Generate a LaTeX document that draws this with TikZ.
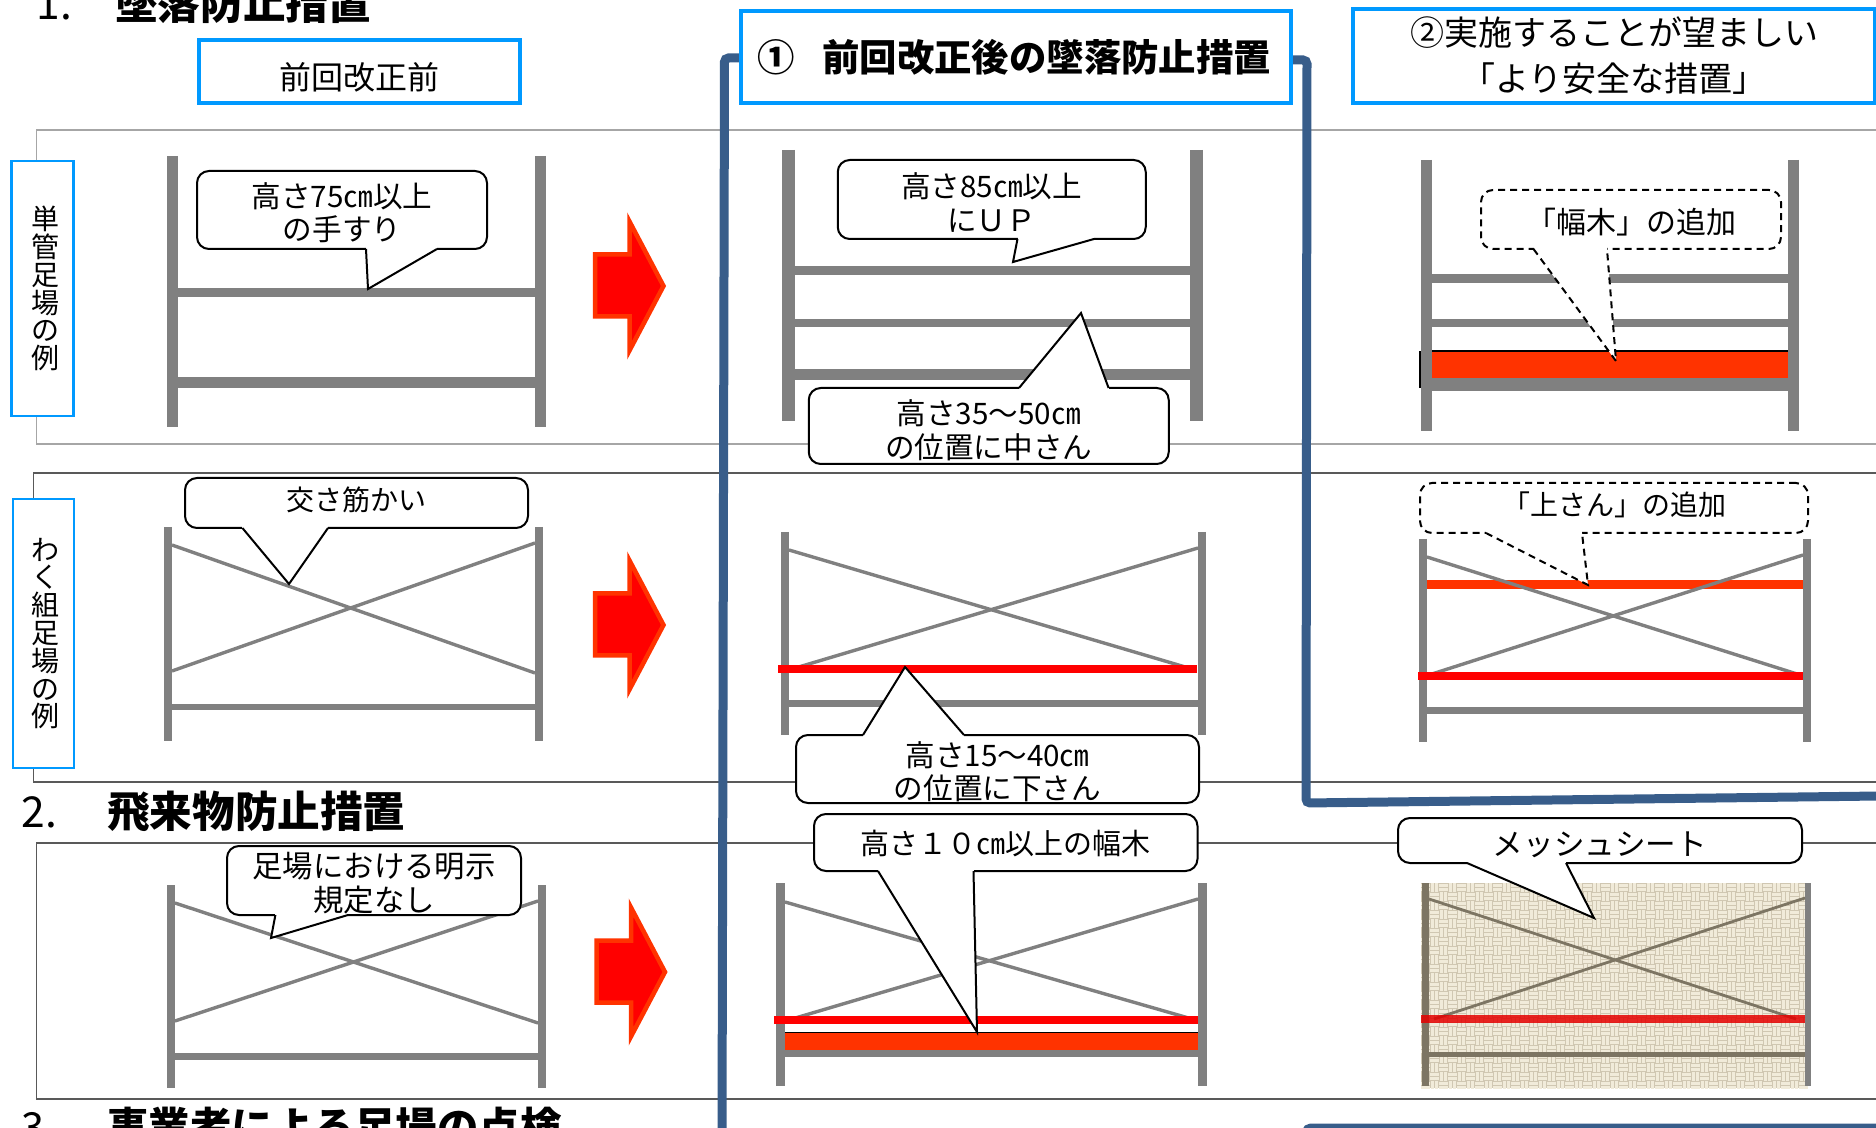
\documentclass[tikz,border=0pt]{standalone}
\usepackage{fontspec}
\setmainfont{Noto Sans CJK JP}
\definecolor{boxblue}{HTML}{0099FF}
\definecolor{framegray}{HTML}{A6A6A6}
\definecolor{framedark}{HTML}{595959}
\definecolor{pipegray}{HTML}{808080}
\definecolor{navyframe}{HTML}{385D8A}
\definecolor{boardred}{HTML}{FF3300}
\definecolor{sheetdark}{HTML}{7D7563}
\definecolor{sheetbase}{HTML}{D0C7B2}
\definecolor{sheetlight}{HTML}{F1EBDA}
\newcommand{\balloontail}[5][]{%
  \fill[white] (#3,0 |- #2) -- (#5) -- (#4,0 |- #2) -- cycle;
  \draw[white, line width=1.5pt] (#3,0 |- #2) -- (#4,0 |- #2);
  \draw[line width=1pt, #1] (#3,0 |- #2) -- (#5) -- (#4,0 |- #2);
}
\newcommand{\posts}[5]{%
  \draw[pipe, line width=#5pt] (#1,#3) -- (#1,#4);
  \draw[pipe, line width=#5pt] (#2,#3) -- (#2,#4);
}
\newcommand{\nudge}[2]{\raisebox{#1}[\height][\depth]{#2}}
\begin{document}
\begin{tikzpicture}[x=0.5pt, y=-0.5pt]
        \tikzstyle{pipe}=[draw=pipegray]
        \tikzstyle{brace}=[draw=pipegray, line width=1.7pt]
        \tikzstyle{headbox}=[draw=boxblue, line width=2.25pt, fill=white, inner sep=0pt, outer sep=0pt, align=center]
        \tikzstyle{sidebox}=[draw=boxblue, line width=1.25pt, fill=white, inner sep=0pt, outer sep=0pt, align=center, font=\fontsize{14}{13.9}\selectfont]
        \tikzstyle{balloon}=[draw, line width=1pt, rounded corners=6pt, fill=white, inner sep=0pt, outer sep=0pt, align=center, font=\fontsize{14.8}{16.7}\selectfont]
        \tikzstyle{title}=[anchor=west, inner sep=0pt, font=\fontsize{21.3}{21}\selectfont\bfseries]
        \tikzstyle{navy}=[draw=navyframe, line width=4.5pt, rounded corners=2pt]
        \tikzstyle{dashes}=[dash pattern=on 3.5pt off 2.5pt]
        \tikzstyle{bigarrow}=[draw=boardred, fill=red, line width=2.25pt, miter limit=10]

        \useasboundingbox (0,0) rectangle (1876,1128);
        \clip (0,0) rectangle (1876,1128);

        % section frames
        \draw[framegray, line width=.8pt] (1876,130) -- (36.6,130) -- (36.6,444) -- (1876,444);
        \draw[framedark, line width=.6pt] (1876,473) -- (33.5,473) -- (33.5,782) -- (1876,782);
        \draw[framedark, line width=.6pt] (1876,843) -- (36.6,843) -- (36.6,1099) -- (1876,1099);

        % row 1
        \posts{172.5}{540.5}{156}{427}{5.5}
        \draw[pipe, line width=4.5pt] (178,292.5) -- (535,292.5);
        \draw[pipe, line width=5.25pt] (178,382.5) -- (535,382.5);

        \posts{788.5}{1196.5}{150}{421}{6.5}
        \draw[pipe, line width=4.5pt] (795,270.5) -- (1190,270.5);
        \draw[pipe, line width=4pt] (795,323) -- (1190,323);
        \draw[pipe, line width=5.25pt] (795,374.5) -- (1190,374.5);

        \fill[boardred] (1432,351) rectangle (1788,378);
        \draw[line width=.8pt] (1432,351) -- (1788,351);
        \draw[line width=.8pt] (1420,351) -- (1420,388);
        \posts{1426.5}{1793.5}{160}{431}{5.5}
        \draw[pipe, line width=4.5pt] (1432,278.5) -- (1788,278.5);
        \draw[pipe, line width=4pt] (1432,323) -- (1788,323);
        \draw[pipe, line width=6.5pt] (1432,385) -- (1788,385);

        % row 2
        \posts{168}{539}{527}{741}{4}
        \draw[pipe, line width=3pt] (172,707) -- (535,707);
        \draw[brace] (172,545) -- (535,673);
        \draw[brace] (172,671) -- (535,543);

        \posts{785}{1202}{532}{735}{4}
        \draw[pipe, line width=3.5pt] (789,703.5) -- (1198,703.5);
        \draw[brace] (789,550) -- (1192,669);
        \draw[brace] (1198,548) -- (792,669);
        \draw[red, line width=4pt] (778,669) -- (1197,669);

        \posts{1423}{1807}{539}{742}{4}
        \draw[boardred, line width=4.5pt] (1427,584.5) -- (1803,584.5);
        \draw[pipe, line width=3.5pt] (1427,710.5) -- (1803,710.5);
        \draw[brace] (1427,557) -- (1797,674);
        \draw[brace] (1803,555) -- (1432,674);
        \draw[red, line width=4pt] (1418,676) -- (1803,676);

        % row 3
        \posts{171}{542}{885}{1088}{4}
        \draw[pipe, line width=3.5pt] (175,1056) -- (538,1056);
        \draw[brace] (175,903) -- (538,1023);
        \draw[brace] (175,1021) -- (538,901);

        \posts{780.5}{1202.5}{883}{1086}{4.5}
        \draw[brace] (785,902) -- (1192,1019);
        \draw[brace] (1198,899) -- (792,1019);
        \draw[red, line width=4pt] (774,1019.5) -- (1198,1019.5);
        \fill[boardred] (785,1033) rectangle (1198,1050);
        \draw[line width=.8pt] (785,1032.5) -- (1198,1032.5);
        \draw[pipe, line width=3.5pt] (785,1053.5) -- (1198,1053.5);

        % mesh sheet
        \fill[sheetbase] (1421,883) rectangle (1808,1088);
        \begin{scope}
            \clip (1421,883) rectangle (1808,1088);
            \foreach \i in {0,...,43}
                \foreach \j in {0,...,22} {
                    \pgfmathtruncatemacro{\k}{mod(\i+\j,2)}
                    \pgfmathsetmacro{\cx}{1421+9*\i}
                    \pgfmathsetmacro{\cy}{883+9*\j}
                    \ifnum\k=0
                        \draw[sheetlight, line width=1.05pt] (\cx,\cy+2.5) -- ++(9,0) (\cx,\cy+6.5) -- ++(9,0);
                    \else
                        \draw[sheetlight, line width=1.05pt] (\cx+2.5,\cy) -- ++(0,9) (\cx+6.5,\cy) -- ++(0,9);
                    \fi
                }
        \end{scope}
        \draw[sheetdark, line width=3.75pt] (1425.5,883) -- (1425.5,1086);
        \draw[pipe, line width=3pt] (1808,883) -- (1808,1086);
        \draw[sheetdark, line width=1.4pt] (1429,899) -- (1796,1019);
        \draw[sheetdark, line width=1.4pt] (1805,898) -- (1434,1019);
        \draw[sheetdark, line width=2.75pt] (1429,1054.5) -- (1805,1054.5);
        \draw[red!90!black, opacity=.85, line width=4pt] (1421,1019) -- (1805,1019);

        % navy frame
        \draw[navy] (722,1140) -- (724.5,58) -- (745,58);
        \draw[navy] (1285,60) -- (1307,60) -- (1306,803) -- (1880,796);
        \draw[navy] (1305,1140) -- (1307,1128) -- (1880,1128);

        % arrows between columns
        \foreach \dx/\dy in {0/0, 0/339, 1.5/686}
            \draw[bigarrow, shift={(\dx,\dy)}] (595,254.5) -- (629.5,254.5) -- (629.5,221.5) -- (663.5,286) -- (629.5,350.5) -- (629.5,316.5) -- (595,316.5) -- cycle;

        % titles
        \node (title1) [title] at (36,3) {\makebox[39.5pt][l]{\mdseries 1.}墜落防止措置};
        \node (title2) [title] at (21,812) {\makebox[43pt][l]{\mdseries 2.}飛来物防止措置};
        \node (title3) [title, font=\fontsize{20.7}{21}\selectfont\bfseries] at (21,1127) {\makebox[43pt][l]{\mdseries 3.}事業者による足場の点検};

        % column heads
        \node (headA) [headbox, minimum width=160.5pt, minimum height=31.5pt, font=\fontsize{16}{16}\selectfont] at (359.5,71.5) {\nudge{-2.7pt}{前回改正前}};
        \node (headB) [headbox, minimum width=275pt, minimum height=46pt, font=\fontsize{18.7}{21}\selectfont\bfseries] at (1016,57) {\hspace{-1.5pt}①\hspace{13.5pt}前回改正後の墜落防止措置};
        \node (headC) [headbox, minimum width=261pt, minimum height=47pt, font=\fontsize{17}{23}\selectfont] at (1614,56) {②実施することが望ましい\\「より安全な措置」};

        % row labels
        \node (side1) [sidebox, minimum width=31pt, minimum height=127.5pt] at (42.5,288.5) {\hspace{3pt}単\\\hspace{3pt}管\\\hspace{3pt}足\\\hspace{3pt}場\\\hspace{3pt}の\\\hspace{3pt}例};
        \node (side2) [sidebox, minimum width=30.5pt, minimum height=134.5pt] at (43.5,633.5) {\hspace{2pt}わ\\\hspace{2pt}く\\\hspace{2pt}組\\\hspace{2pt}足\\\hspace{2pt}場\\\hspace{2pt}の\\\hspace{2pt}例};

        % balloons
        \node (rail75) [balloon, minimum width=145pt, minimum height=39pt] at (342,210) {\nudge{-1.2pt}{高さ75㎝以上}\\\nudge{-1.2pt}{の手すり}};
        \coordinate (rail75 tip) at (368,289);
        \balloontail{rail75.south}{366}{437}{rail75 tip}

        \node (rail85) [balloon, minimum width=154pt, minimum height=39.5pt] at (991.75,199.5) {\nudge{-1.5pt}{高さ85㎝以上}\\\nudge{-1.5pt}{にＵＰ}};
        \coordinate (rail85 tip) at (1013,262);
        \balloontail{rail85.south}{1017.5}{1094}{rail85 tip}

        \node (mid35) [balloon, minimum width=180pt, minimum height=38pt] at (988.75,426) {\nudge{-2.2pt}{高さ35～50㎝}\\\nudge{-2.2pt}{の位置に中さん}};
        \coordinate (mid35 tip) at (1081,313);
        \balloontail{mid35.north}{1019}{1108.6}{mid35 tip}

        \node (toe1) [balloon, dashes, minimum width=150pt, minimum height=29.5pt, font=\fontsize{15}{16}\selectfont] at (1631,219.5) {\nudge{-1.5pt}{「幅木」の追加}};
        \coordinate (toe1 tip) at (1616,361);
        \balloontail[dashes]{toe1.south}{1533.5}{1607}{toe1 tip}

        \node (cross) [balloon, minimum width=171.5pt, minimum height=25pt, font=\fontsize{14}{16}\selectfont] at (356.5,503) {\nudge{1.6pt}{交さ筋かい}};
        \coordinate (cross tip) at (289,584);
        \balloontail{cross.south}{242.4}{328}{cross tip}

        \node (low15) [balloon, minimum width=201.5pt, minimum height=34pt] at (997.5,769) {\nudge{-1.5pt}{高さ15～40㎝}\\\nudge{-1.5pt}{の位置に下さん}};
        \coordinate (low15 tip) at (905,667);
        \balloontail{low15.north}{863}{964}{low15 tip}

        \node (top1) [balloon, dashes, minimum width=194pt, minimum height=25pt, font=\fontsize{14}{16}\selectfont] at (1614,508) {\nudge{1.6pt}{「上さん」の追加}};
        \coordinate (top1 tip) at (1588,585);
        \balloontail[dashes]{top1.south}{1486}{1582}{top1 tip}

        \node (none) [balloon, minimum width=147pt, minimum height=34.5pt, font=\fontsize{15.2}{17}\selectfont] at (374,880.5) {\nudge{-1.5pt}{足場における明示}\\\nudge{-1.5pt}{規定なし}};
        \coordinate (none tip) at (271,938);
        \balloontail{none.south}{275.4}{348}{none tip}

        \node (toe10) [balloon, minimum width=191.75pt, minimum height=28.5pt, font=\fontsize{14.5}{16}\selectfont] at (1005.75,842.5) {\nudge{-.5pt}{高さ１０㎝以上の幅木}};
        \coordinate (toe10 tip) at (977,1032);
        \balloontail{toe10.south}{878}{973.5}{toe10 tip}

        \node (mesh) [balloon, minimum width=202pt, minimum height=22.5pt, font=\fontsize{15.3}{16}\selectfont] at (1600,840.5) {\nudge{-2pt}{メッシュシート}};
        \coordinate (mesh tip) at (1594,918);
        \balloontail{mesh.south}{1467}{1566}{mesh tip}

    \end{tikzpicture}
\end{document}
